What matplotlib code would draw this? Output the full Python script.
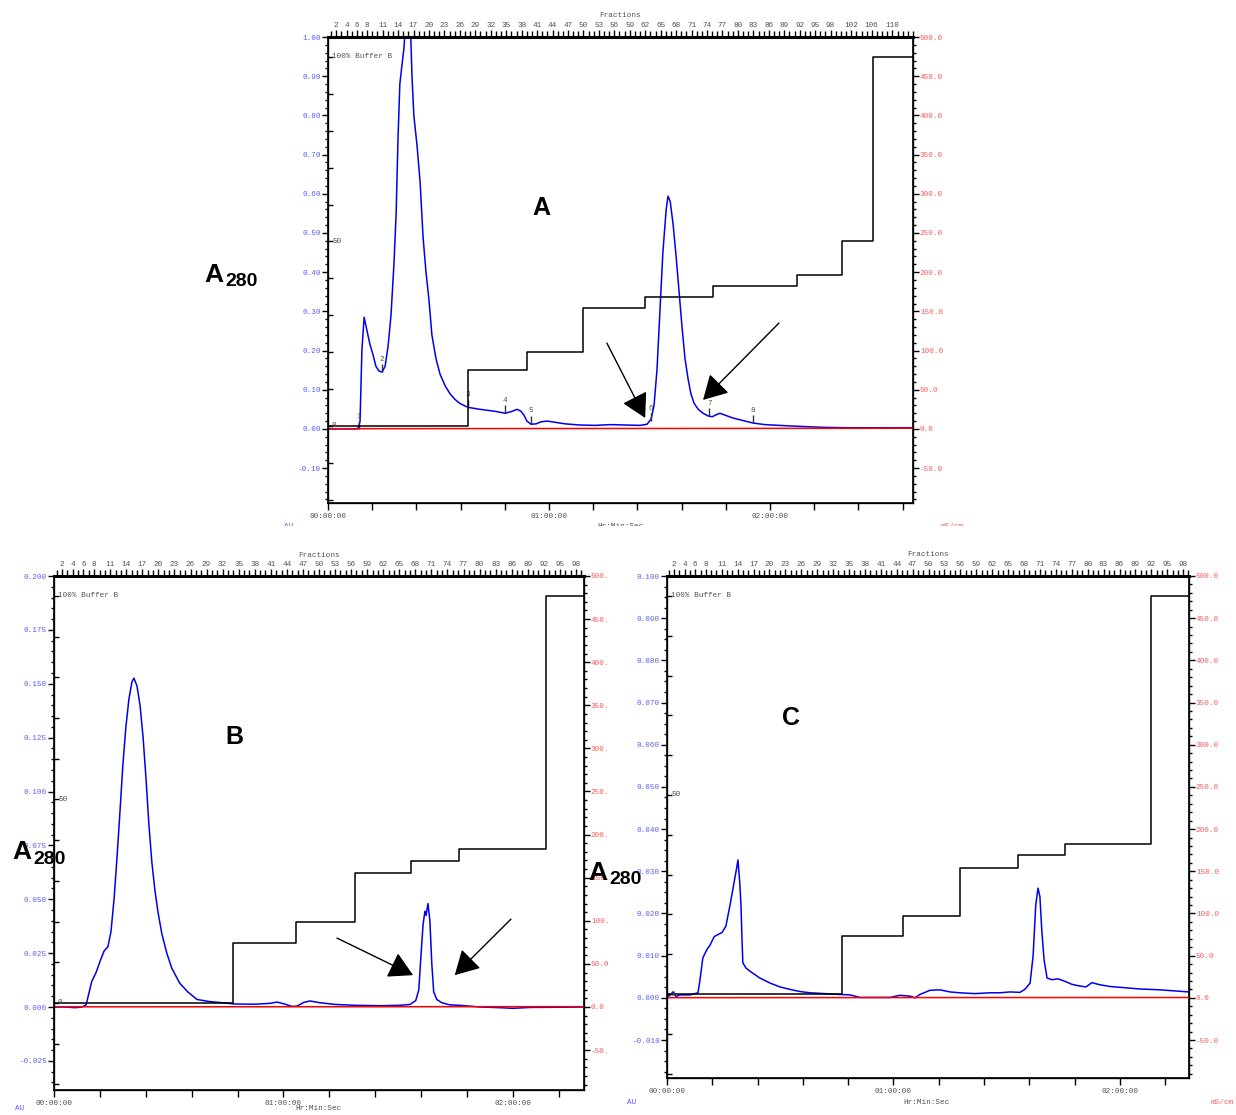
import matplotlib
matplotlib.use("Agg")
import matplotlib.pyplot as plt
import matplotlib.transforms as mtransforms
from matplotlib.patches import Rectangle
from matplotlib.ticker import MultipleLocator, FixedLocator, FuncFormatter

W, H = 1236, 1115
BLUE_TXT = "#5b5bff"
RED_TXT = "#ff5a5a"
GREY_TXT = "#505050"
SANS = "Liberation Sans"

frac_labels_A = [2, 4, 6, 8, 11, 14, 17, 20, 23, 26, 29, 32, 35, 38, 41, 44, 47, 50, 53,
                 56, 59, 62, 65, 68, 71, 74, 77, 80, 83, 86, 89, 92, 95, 98, 102, 106, 110]
frac_labels_BC = [2, 4, 6, 8, 11, 14, 17, 20, 23, 26, 29, 32, 35, 38, 41, 44, 47, 50, 53,
                  56, 59, 62, 65, 68, 71, 74, 77, 80, 83, 86, 89, 92, 95, 98]

# panel A: time in minutes, absorbance A280 (AU)
time_A = [0, 6.0, 8.1, 8.7, 9.2, 9.8, 10.6, 11.4, 12.2, 13.0, 13.8, 14.7, 15.5, 16.3, 17.1,
          17.9, 18.5, 19.0, 19.5, 20.1, 20.6, 21.2, 21.7, 22.3, 22.8, 23.3, 24.2, 25.0, 25.8,
          26.6, 27.4, 28.2, 29.3, 30.4, 31.8, 33.1, 34.5, 35.8, 38.0, 41.3, 45.3, 48.1, 50.0,
          51.3, 52.4, 53.2, 54.0, 55.1, 56.5, 57.8, 59.5, 61.6, 64.3, 68.4, 72.5, 76.6, 80.6,
          84.7, 86.6, 87.7, 88.5, 89.3, 90.1, 90.9, 91.8, 92.3, 92.9, 93.7, 94.5, 95.3, 96.1,
          96.9, 97.7, 98.5, 99.4, 100.5, 101.8, 103.2, 104.3, 105.3, 106.4, 107.8, 109.9,
          112.4, 115.4, 118.6, 124.6, 129.5, 134.4, 141.7, 149.9, 158.8]
au_A = [0.0, 0.0, 0.0, 0.02, 0.2, 0.285, 0.25, 0.215, 0.19, 0.16, 0.148, 0.145, 0.16, 0.21,
        0.29, 0.42, 0.55, 0.74, 0.88, 0.93, 0.97, 1.05, 1.1, 1.05, 0.9, 0.8, 0.72, 0.63, 0.49,
        0.4, 0.33, 0.24, 0.18, 0.14, 0.11, 0.09, 0.075, 0.065, 0.055, 0.05, 0.045, 0.04,
        0.045, 0.05, 0.045, 0.035, 0.02, 0.012, 0.013, 0.018, 0.02, 0.017, 0.013, 0.01,
        0.009, 0.011, 0.01, 0.009, 0.012, 0.025, 0.06, 0.15, 0.3, 0.45, 0.56, 0.594, 0.58,
        0.52, 0.44, 0.35, 0.26, 0.18, 0.13, 0.09, 0.065, 0.05, 0.04, 0.033, 0.031, 0.036,
        0.04, 0.035, 0.028, 0.022, 0.015, 0.011, 0.008, 0.006, 0.004, 0.003, 0.003, 0.003]
grad_time_A = [0, 38.0, 54.0, 69.2, 86.1, 104.5, 127.3, 139.6, 148.0, 158.8]
grad_pct_A = [0, 15.2, 20, 32, 35, 38, 41, 50, 100, 100]
cond_time_A = [0, 60, 120, 158.8]
cond_A = [0.3, 0.5, 0.7, 0.9]
peak_time_A = [8.4, 14.7, 38.0, 48.1, 55.1, 87.7, 103.5, 115.4]
peak_au_A = [0.0, 0.145, 0.055, 0.04, 0.013, 0.02, 0.033, 0.015]
peak_lbl_A = ["1", "2", "3", "4", "5", "6", "7", "8"]

# panel B
time_B = [0, 2.9, 5.5, 7.3, 8.4, 9.2, 9.9, 11.0, 12.0, 13.1, 14.1, 14.9, 15.7, 16.5, 17.3,
          18.0, 18.8, 19.6, 20.4, 20.9, 21.7, 22.5, 23.3, 24.1, 24.8, 25.6, 26.4, 27.2, 28.2,
          29.5, 30.8, 32.9, 35.0, 37.4, 40.8, 43.9, 47.3, 52.5, 56.5, 58.3, 60.1, 62.2, 63.5,
          65.4, 66.9, 69.5, 73.5, 78.7, 85.2, 90.5, 93.1, 94.6, 95.4, 95.9, 96.5, 97.0, 97.3,
          97.8, 98.3, 98.8, 99.3, 100.1, 101.4, 103.5, 106.1, 111.4, 116.6, 120.0, 124.4, 138.6]
au_B = [0.0, 0.0, -0.0003, 0.0, 0.001, 0.007, 0.012, 0.016, 0.021, 0.026, 0.028, 0.035, 0.05,
        0.07, 0.092, 0.112, 0.13, 0.143, 0.151, 0.1526, 0.149, 0.14, 0.125, 0.105, 0.085,
        0.067, 0.054, 0.044, 0.034, 0.025, 0.018, 0.011, 0.007, 0.0035, 0.0025, 0.002,
        0.0014, 0.0013, 0.0017, 0.0023, 0.0015, 0.0003, 0.0004, 0.0022, 0.0028, 0.002,
        0.0012, 0.0008, 0.0006, 0.0008, 0.0012, 0.003, 0.008, 0.022, 0.038, 0.0445, 0.0425,
        0.048, 0.04, 0.02, 0.007, 0.0035, 0.002, 0.001, 0.0008, 0.0, -0.0003, -0.0006,
        -0.0002, 0.0]
grad_time_B = [0, 46.8, 63.3, 78.7, 93.3, 105.9, 128.6, 138.6]
grad_pct_B = [0, 14.7, 19.9, 31.9, 34.9, 37.8, 100, 100]
cond_time_B = [0, 138.6]
cond_B = [0.2, 0.4]

# panel C
time_C = [0, 0.8, 1.6, 2.4, 3.4, 6.1, 8.2, 8.7, 9.5, 10.6, 11.4, 12.5, 13.5, 14.6, 15.6, 16.7,
          17.7, 18.5, 18.8, 19.3, 19.6, 19.9, 20.1, 20.9, 22.0, 24.6, 27.3, 29.9, 32.6, 35.2,
          37.9, 41.9, 45.8, 48.5, 51.1, 56.4, 59.1, 61.7, 64.4, 65.7, 67.0, 69.7, 72.3, 75.0,
          77.6, 81.6, 85.6, 88.2, 90.9, 93.5, 94.8, 96.2, 97.0, 97.7, 98.3, 98.8, 99.3, 99.9,
          100.7, 102.0, 103.6, 105.2, 107.3, 109.4, 111.0, 112.6, 114.7, 117.3, 121.3, 125.3,
          130.6, 138.3]
au_C = [0.0003, 0.0006, 0.0014, 0.0003, 0.0007, 0.0007, 0.0012, 0.004, 0.0095, 0.0115,
        0.0125, 0.0145, 0.015, 0.0155, 0.017, 0.022, 0.027, 0.031, 0.0327, 0.027, 0.022,
        0.013, 0.0083, 0.0071, 0.0063, 0.0047, 0.0035, 0.0026, 0.002, 0.0015, 0.0012, 0.001,
        0.0008, 0.0007, 0.0001, 0.0001, 0.0001, 0.0006, 0.0004, 0.0, 0.0008, 0.0018, 0.0019,
        0.0014, 0.0012, 0.001, 0.0012, 0.0012, 0.0014, 0.0013, 0.002, 0.0035, 0.01, 0.022,
        0.026, 0.024, 0.016, 0.009, 0.0047, 0.0043, 0.0045, 0.004, 0.0032, 0.0028, 0.0026,
        0.0036, 0.0031, 0.0027, 0.0024, 0.0021, 0.0019, 0.0014]
grad_time_C = [0, 46.4, 62.5, 77.6, 93.0, 105.4, 128.2, 138.3]
grad_pct_C = [0, 14.6, 19.6, 31.7, 34.8, 37.8, 100, 100]
cond_time_C = [0, 138.3]
cond_C = [0.2, 0.4]

# arrows (tail, head) in minutes / AU
arrows_A = [((75.7, 0.219), (86.1, 0.028)), ((122.4, 0.27), (101.8, 0.074))]
arrows_B = [((74.0, 0.032), (93.9, 0.0148)), ((119.5, 0.0408), (104.8, 0.0148))]


def fig_xy(x, y):
    return x / W, 1 - y / H


def draw_panel(fig, box, t_max, au_lim, au_step, au_minor, au_fmt, ms_lim, ms_fmt,
               pct_lim, frac_lim, frac_labels, t, au, gt, gp, ct, cv):
    left, top, right, bottom = box
    ax = fig.add_axes([left / W, 1 - bottom / H, (right - left) / W, (bottom - top) / H])

    ax.plot(t, au, color="#0000ee", lw=1.1, zorder=3)
    ax.set_xlim(0, t_max)
    ax.set_ylim(*au_lim)
    ax.xaxis.set_major_locator(MultipleLocator(60))
    ax.xaxis.set_minor_locator(MultipleLocator(12))
    ax.xaxis.set_major_formatter(FuncFormatter(lambda v, p: "%02d:%02d:00" % (v // 60, v % 60)))
    ax.yaxis.set_major_locator(MultipleLocator(au_step))
    ax.yaxis.set_minor_locator(MultipleLocator(au_minor))
    ax.yaxis.set_major_formatter(FuncFormatter(lambda v, p: au_fmt % (0.0 if abs(v) < 1e-9 else v)))
    ax.tick_params(axis="x", which="both", direction="out", length=5, width=1,
                   labelsize=5.5, labelcolor=GREY_TXT, pad=2)
    ax.tick_params(axis="y", which="major", direction="out", length=4, width=1,
                   labelsize=5.5, labelcolor=BLUE_TXT, pad=1)
    ax.tick_params(axis="y", which="minor", direction="out", length=2.5, width=1)
    for s in ax.spines.values():
        s.set_linewidth(1.2)

    # conductivity, right axis
    ax_ms = ax.twinx()
    ax_ms.plot(ct, cv, color="red", lw=1.1)
    ax_ms.set_ylim(*ms_lim)
    ax_ms.yaxis.set_major_locator(MultipleLocator(50))
    ax_ms.yaxis.set_minor_locator(MultipleLocator(10))
    ax_ms.yaxis.set_major_formatter(FuncFormatter(ms_fmt))
    ax_ms.tick_params(axis="y", which="major", direction="out", length=4, width=1,
                      labelsize=5.5, labelcolor=RED_TXT, pad=1)
    ax_ms.tick_params(axis="y", which="minor", direction="out", length=2.5, width=1)

    # % buffer B gradient, ticks inside the left spine
    ax_b = ax.twinx()
    ax_b.plot(gt, gp, color="black", lw=1.1, drawstyle="steps-post")
    ax_b.set_ylim(*pct_lim)
    ax_b.yaxis.tick_left()
    ax_b.yaxis.set_major_locator(FixedLocator([0, 50, 100]))
    ax_b.yaxis.set_minor_locator(MultipleLocator(10))
    ax_b.tick_params(axis="y", which="both", direction="in", length=3.5, width=1,
                     labelleft=False)
    trans = mtransforms.blended_transform_factory(ax_b.transAxes, ax_b.transData)
    off = mtransforms.ScaledTranslation(4 / 100, 0, fig.dpi_scale_trans)
    for val, txt in [(0, "0"), (50, "50"), (100, "100% Buffer B")]:
        ax_b.text(0, val, txt, transform=trans + off, fontsize=5.5, color=GREY_TXT,
                  va="center", ha="left")

    # fractions along the top
    ax_f = ax.twiny()
    ax_f.set_xlim(*frac_lim)
    ax_f.xaxis.set_major_locator(FixedLocator(frac_labels))
    ax_f.xaxis.set_minor_locator(MultipleLocator(1))
    ax_f.tick_params(axis="x", which="major", direction="out", length=5, width=1,
                     labelsize=5.5, labelcolor=GREY_TXT, pad=1)
    ax_f.tick_params(axis="x", which="minor", direction="out", length=4, width=1)
    ax_f.set_xlabel("Fractions", fontsize=5.5, color=GREY_TXT, labelpad=3)
    ax_f.spines["top"].set_linewidth(2.2)
    return ax


def main():
    plt.rcParams["font.family"] = ["Liberation Mono", "DejaVu Sans"]
    fig = plt.figure(figsize=(W / 100, H / 100), dpi=100)

    ms_full = lambda v, p: "%.1f" % (0.0 if abs(v) < 1e-9 else v)
    ms_short = lambda v, p: ("%.1f" % (0.0 if abs(v) < 1e-9 else v))[:4]

    ax_a = draw_panel(fig, (328, 37, 913, 503), 158.8, (-0.189, 1.0), 0.1, 0.02, "%.2f",
                      (-94.5, 500), ms_full, (-20.9, 105.4), (0.39, 114.0), frac_labels_A,
                      time_A, au_A, grad_time_A, grad_pct_A, cond_time_A, cond_A)
    ax_bp = draw_panel(fig, (54, 576, 584, 1090), 138.6, (-0.0385, 0.2), 0.025, 0.005, "%.3f",
                       (-96.3, 500), ms_short, (-21.4, 104.9), (0.5, 99.5), frac_labels_BC,
                       time_B, au_B, grad_time_B, grad_pct_B, cond_time_B, cond_B)
    ax_c = draw_panel(fig, (667, 576, 1189, 1078), 138.3, (-0.019, 0.1), 0.01, 0.0025, "%.3f",
                      (-95.0, 500), ms_full, (-21.1, 105.0), (0.68, 99.1), frac_labels_BC,
                      time_C, au_C, grad_time_C, grad_pct_C, cond_time_C, cond_C)

    # peak markers on panel A
    for pt, pa, lb in zip(peak_time_A, peak_au_A, peak_lbl_A):
        ax_a.vlines(pt, pa, pa + 0.02, color="#333333", lw=1, zorder=4)
        ax_a.text(pt, pa + 0.024, lb, fontsize=5.5, color=GREY_TXT, ha="center", va="bottom")

    arrow_kw = dict(arrowstyle="-|>,head_length=0.75,head_width=0.42", color="black",
                    lw=1, mutation_scale=20, shrinkA=0, shrinkB=0)
    for tail, head in arrows_A:
        ax_a.annotate("", xy=head, xytext=tail, arrowprops=arrow_kw, zorder=5)
    for tail, head in arrows_B:
        ax_bp.annotate("", xy=head, xytext=tail, arrowprops=arrow_kw, zorder=5)

    # panel letters and A280 labels
    for x, y, s in [(541, 208, "A"), (234, 737, "B"), (791, 718, "C")]:
        fig.text(*fig_xy(x, y), s, fontsize=18, fontweight="bold", family=SANS,
                 ha="center", va="center")
    for x, y in [(204, 275), (12, 852), (588, 873)]:
        fig.text(*fig_xy(x, y), "A", fontsize=19, fontweight="bold", family=SANS,
                 ha="left", va="center")
        fig.text(*fig_xy(x + 21, y + 7), "280", fontsize=14, fontweight="bold", family=SANS,
                 ha="left", va="center")

    # unit labels under each panel
    for x, y, s, c in [(289, 526, "AU", BLUE_TXT), (620, 526, "Hr:Min:Sec", GREY_TXT),
                       (952, 526, "mS/cm", RED_TXT),
                       (20, 1109, "AU", BLUE_TXT), (318, 1109, "Hr:Min:Sec", GREY_TXT),
                       (632, 1103, "AU", BLUE_TXT), (927, 1103, "Hr:Min:Sec", GREY_TXT),
                       (1222, 1103, "mS/cm", RED_TXT)]:
        fig.text(*fig_xy(x, y), s, fontsize=5.5, color=c, ha="center", va="center")
    fig.patches.append(Rectangle(fig_xy(260, 545), 740 / W, 19 / H, transform=fig.transFigure,
                                 facecolor="white", edgecolor="none", zorder=10))

    fig.savefig("out.png", dpi=100)


if __name__ == "__main__":
    main()
